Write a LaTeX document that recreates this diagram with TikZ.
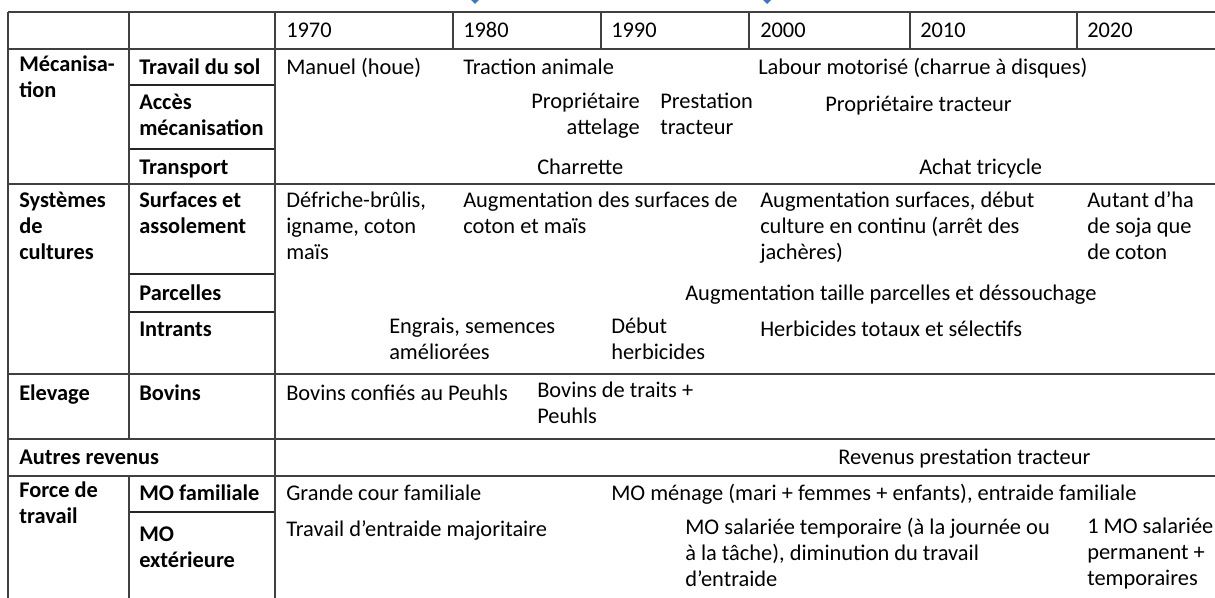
\documentclass[tikz,border=0pt]{standalone}
\usepackage{fontspec}
\setmainfont{Carlito}
\usepackage{tikz}

\newcommand{\tabfont}{\fontsize{16.8}{19.5}\selectfont}
\definecolor{tipblue}{RGB}{68,114,196}
\tikzset{
  cell/.style={anchor=north west, inner sep=0pt, align=left, yshift=13.65pt,
    execute at begin node=\strut},
  rcell/.style={cell, anchor=north east, align=right},
  head/.style={cell, font=\tabfont\bfseries},
  rule/.style={line width=1.1pt, black!75},
  thinrule/.style={line width=0.8pt, black!85}
}

\begin{document}
\begin{tikzpicture}[x=0.75pt, y=-0.75pt, font=\tabfont]
  \useasboundingbox (0,0) rectangle (1215,598);
  \fill[tipblue] (471,0) -- (479,0) -- (475,4) -- cycle;
  \fill[tipblue] (763,0) -- (771,0) -- (767,4) -- cycle;
  \foreach \y in {12,49,184,374,439,476}
    \draw[rule] (8,\y) -- (1215,\y);
  \foreach \y in {85,149,274,312,512}
    \draw[thinrule] (129,\y) -- (275,\y);
  \draw[rule]
    (8,12) -- (8,598)
    (275,12) -- (275,598)
    (129,12) -- (129,439)
    (129,476) -- (129,598)
  ;
  \foreach \x in {453,601,749,910,1077}
    \draw[rule] (\x,12) -- (\x,49);
  \foreach \x/\yr in {286/1970,463/1980,611/1990,760/2000,920/2010,1087/2020}
    \node[cell] (y\yr) at (\x,37) {\yr};

  \node[head] (meca) at (19,74) {Mécanisa-\\tion};
  \node[head] (sol) at (139,74) {Travail du sol};
  \node[head] (acces) at (139,112) {Accès\\mécanisation};
  \node[head] (transp) at (139,174) {Transport};
  \node[head] (syst) at (19,210) {Systèmes\\de\\cultures};
  \node[head] (surf) at (139,210) {Surfaces et\\assolement};
  \node[head] (parc) at (139,300) {Parcelles};
  \node[head] (intr) at (139,336) {Intrants};
  \node[head] (elev) at (19,400) {Elevage};
  \node[head] (bov) at (139,400) {Bovins};
  \node[head] (autres) at (19,464) {Autres revenus};
  \node[head] (force) at (19,500) {Force de\\travail};
  \node[head] (mofam) at (139,500) {MO familiale};
  \node[head] (moext) at (139,545) {MO\\extérieure};

  \node[cell] (sol1) at (286,74) {Manuel (houe)};
  \node[cell] (sol2) at (463,74) {Traction animale};
  \node[cell] (sol3) at (758,74) {Labour motorisé (charrue à disques)};
  \node[rcell] (acc1) at (640,111) {Propriétaire\\attelage};
  \node[cell] (acc2) at (660,111) {Prestation\\tracteur};
  \node[cell] (acc3) at (825,111) {Propriétaire tracteur};
  \node[cell] (tr1) at (537,174) {Charrette};
  \node[cell] (tr2) at (919,174) {Achat tricycle};
  \node[cell] (surf1) at (286,210) {Défriche-brûlis,\\igname, coton\\maïs};
  \node[cell] (surf2) at (463,210) {Augmentation des surfaces de\\coton et maïs};
  \node[cell] (surf3) at (760,210) {Augmentation surfaces, début\\culture en continu (arrêt des\\jachères)};
  \node[cell] (surf4) at (1087,210) {Autant d’ha\\de soja que\\de coton};
  \node[cell] (parc1) at (685,300) {Augmentation taille parcelles et déssouchage};
  \node[cell] (intr1) at (389,336) {Engrais, semences\\améliorées};
  \node[cell] (intr2) at (611,336) {Début\\herbicides};
  \node[cell] (intr3) at (760,336) {Herbicides totaux et sélectifs};
  \node[cell] (bov1) at (286,400) {Bovins confiés au Peuhls};
  \node[cell] (bov2) at (537,400) {Bovins de traits +\\Peuhls};
  \node[cell] (rev1) at (838,464) {Revenus prestation tracteur};
  \node[cell] (fam1) at (286,500) {Grande cour familiale};
  \node[cell] (fam2) at (611,500) {MO ménage (mari + femmes + enfants), entraide familiale};
  \node[cell] (ext1) at (286,536) {Travail d’entraide majoritaire};
  \node[cell] (ext2) at (685,536) {MO salariée temporaire (à la journée ou\\à la tâche), diminution du travail\\d’entraide};
  \node[cell] (ext3) at (1087,536) {1 MO salariée\\permanent +\\temporaires};
\end{tikzpicture}
\end{document}
